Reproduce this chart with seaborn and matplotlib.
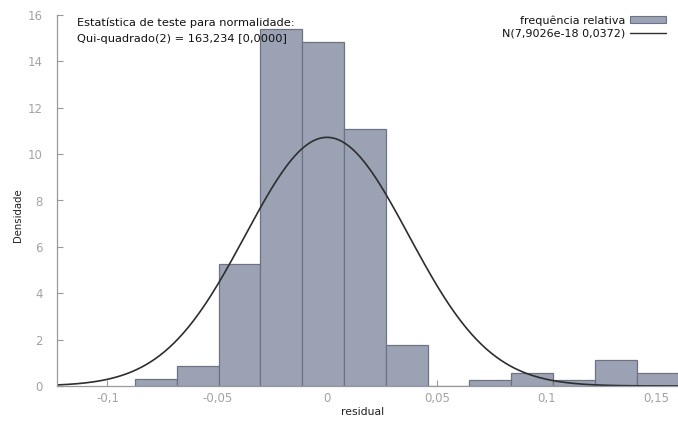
import numpy as np
import pandas as pd
import matplotlib
matplotlib.use("Agg")
import matplotlib.pyplot as plt
import seaborn as sns
from matplotlib.patches import Patch
from matplotlib.lines import Line2D

# ---- data ----
bin_edges = [-0.0875, -0.0685, -0.0494, -0.0304, -0.0113, 0.0077, 0.0268,
             0.0458, 0.0648, 0.0839, 0.1029, 0.1220, 0.1410, 0.1600]
densities = [0.29, 0.88, 5.25, 15.4, 14.85, 11.08, 1.75, 0.0,
             0.28, 0.57, 0.28, 1.14, 0.57]
norm_mean = 7.9026e-18
norm_sd = 0.0372
x_ticks = [-0.1, -0.05, 0.0, 0.05, 0.1, 0.15]
x_tick_labels = ["-0,1", "-0,05", "0", "0,05", "0,1", "0,15"]
y_ticks = [0, 2, 4, 6, 8, 10, 12, 14, 16]
stat_text = "Estatística de teste para normalidade:\nQui-quadrado(2) = 163,234 [0,0000]"
legend_labels = ["frequência relativa", "N(7,9026e-18 0,0372)"]

sns.set_theme(style="white")
plt.rcParams["font.family"] = ["DejaVu Sans"]

W, H = 678, 423
fig = plt.figure(figsize=(W / 100, H / 100), dpi=100)
ax_l, ax_b, ax_t = 57, 386, 15
ax = fig.add_axes([ax_l / W, (H - ax_b) / H, 1 - ax_l / W, (ax_b - ax_t) / H])

edges = list(bin_edges)
centers = [(a + b) / 2 for a, b in zip(edges[:-1], edges[1:])]
df = pd.DataFrame({"x": centers, "w": densities})
bar_fill = "#9aa2b3"
bar_edge = "#6c7386"
sns.histplot(data=df, x="x", weights="w", bins=edges, stat="count",
             color=bar_fill, edgecolor=bar_edge, linewidth=0.9, alpha=1.0, ax=ax)

xmin, xmax = -0.123, 0.1599
xs = np.linspace(xmin, xmax, 400)
pdf = np.exp(-0.5 * ((xs - norm_mean) / norm_sd) ** 2) / (norm_sd * np.sqrt(2 * np.pi))
sns.lineplot(x=xs, y=pdf, color="#2e2e2e", linewidth=1.2, ax=ax)

ax.set_xlim(xmin, xmax)
ax.set_ylim(0, 16)
ax.set_xticks(x_ticks)
ax.set_xticklabels(x_tick_labels)
ax.set_yticks(y_ticks)
ax.set_yticklabels([str(v) for v in y_ticks])

tick_grey = "#a3a3a3"
ax.tick_params(axis="both", direction="in", length=4, width=0.8, color="#999999",
               labelcolor=tick_grey, labelsize=8.5)
ax.tick_params(axis="y", pad=10.5)
ax.tick_params(axis="x", pad=4.5)
ax.tick_params(left=True, bottom=True)

for s in ["top", "right"]:
    ax.spines[s].set_visible(False)
for s in ["left", "bottom"]:
    ax.spines[s].set_color("#999999")
    ax.spines[s].set_linewidth(0.9)

ax.set_xlabel("residual", fontsize=7.8, color="#222222")
ax.set_ylabel("Densidade", fontsize=7.3, color="#222222")
aw, ah = W - ax_l, ax_b - ax_t
ax.xaxis.set_label_coords((363 - ax_l) / aw, (ax_b - 407) / ah)
ax.yaxis.set_label_coords((23 - ax_l) / aw, (ax_b - 215) / ah)

fig.text(77 / W, 1 - 18 / H, stat_text, fontsize=8.2, color="#111111",
         va="top", ha="left", linespacing=1.75)

handles = [Patch(facecolor=bar_fill, edgecolor=bar_edge, linewidth=0.8),
           Line2D([0], [0], color="#2e2e2e", linewidth=1.0)]
leg = ax.legend(handles, legend_labels, loc="upper right", frameon=False,
                markerfirst=False, fontsize=8.0, handlelength=3.2,
                handleheight=0.55, handletextpad=0.45, labelspacing=0.3,
                bbox_to_anchor=(666 / W, 1 - 15 / H), bbox_transform=fig.transFigure,
                borderaxespad=0, borderpad=0)
for t in leg.get_texts():
    t.set_color("#111111")

fig.savefig("out.png", dpi=100)
